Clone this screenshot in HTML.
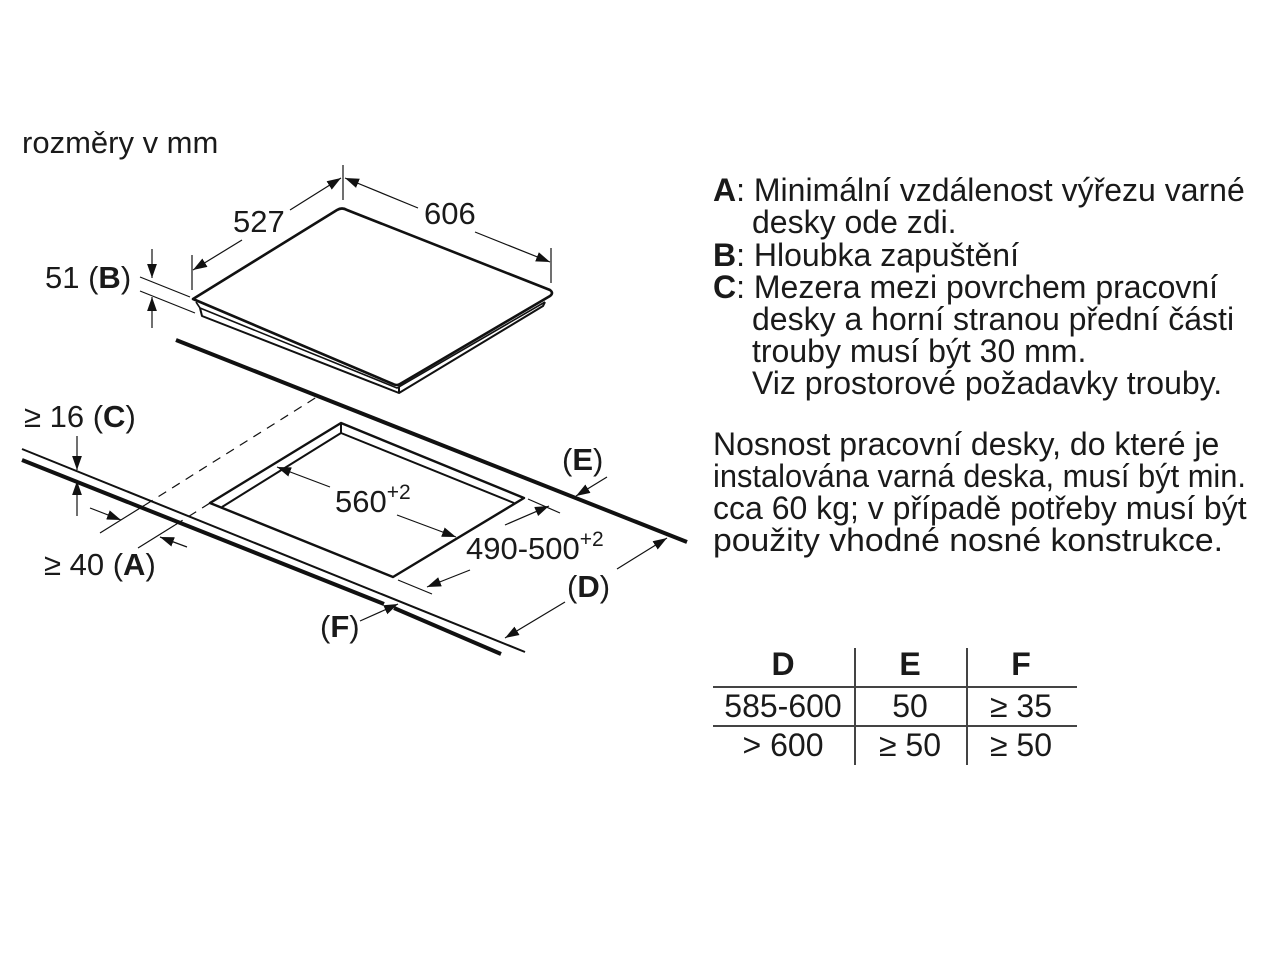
<!DOCTYPE html>
<html><head><meta charset="utf-8"><style>
html,body{margin:0;padding:0;background:#fff;}
svg{display:block}
text{font-family:"Liberation Sans",Arial,sans-serif;fill:#1a1a1a;}
</style></head><body>
<svg width="1280" height="960" viewBox="0 0 1280 960" xmlns="http://www.w3.org/2000/svg">
<defs>
<marker id="b" viewBox="0 0 10 10" refX="10" refY="5" markerWidth="14" markerHeight="14" markerUnits="userSpaceOnUse" orient="auto"><path d="M0,1.5 L10,5 L0,8.5 Z" fill="#111"/></marker>
</defs>
<rect width="1280" height="960" fill="#fff"/>
<text x="22" y="153" font-size="31">rozměry v mm</text>

<g stroke="#111" fill="none" stroke-linejoin="round">
<path d="M193,299 L337,210 Q342,207 347,210 L550,290 Q554,293 550,296 L400,384 Q397,386 393,384 Z" stroke-width="2.6"/>
<path d="M196,302 L200,308 L397,388 L545,302" stroke-width="1.6"/>
<path d="M200,308 L202,316 L399,393 L399,387 M399,393 L543,306 L545,302" stroke-width="2"/>
<g stroke-width="1.2">
<line x1="343" y1="165" x2="343" y2="200"/>
<line x1="192" y1="255" x2="192" y2="290"/>
<line x1="551" y1="248" x2="551" y2="283"/>
<line x1="242" y1="240" x2="193" y2="270" marker-end="url(#b)"/>
<line x1="290" y1="210" x2="341" y2="178" marker-end="url(#b)"/>
<line x1="418" y1="208" x2="345" y2="178" marker-end="url(#b)"/>
<line x1="475" y1="232" x2="550" y2="262" marker-end="url(#b)"/>
<line x1="140" y1="277" x2="190" y2="297"/>
<line x1="140" y1="291" x2="195" y2="313"/>
<line x1="152" y1="249" x2="152" y2="278" marker-end="url(#b)"/>
<line x1="152" y1="328" x2="152" y2="297" marker-end="url(#b)"/>
</g>
<line x1="176" y1="340" x2="687" y2="542" stroke-width="4"/>
<line x1="22" y1="449" x2="525" y2="652" stroke-width="2"/>
<polyline points="22,460 384,604" stroke-width="4"/>
<polyline points="394,608 501,654" stroke-width="4"/>
<path d="M341,423 L524,498 L393,577 L210,503 Z" stroke-width="2.4"/>
<path d="M222,507 L341,433 L514,503 M341,423 L341,433" stroke-width="2"/>
<g stroke-width="1.2">
<line x1="100" y1="533" x2="145" y2="505"/>
<line x1="145" y1="505" x2="320" y2="395" stroke-dasharray="9,7"/>
<line x1="138" y1="548" x2="175" y2="525"/>
<line x1="175" y1="525" x2="210" y2="503" stroke-dasharray="9,7"/>
<line x1="77" y1="436" x2="77" y2="470" marker-end="url(#b)"/>
<line x1="77" y1="516" x2="77" y2="481" marker-end="url(#b)"/>
<line x1="90" y1="508" x2="121" y2="520" marker-end="url(#b)"/>
<line x1="187" y1="547" x2="160" y2="537" marker-end="url(#b)"/>
<line x1="330" y1="487" x2="277" y2="467" marker-end="url(#b)"/>
<line x1="397" y1="515" x2="456" y2="537" marker-end="url(#b)"/>
<line x1="528" y1="499" x2="560" y2="513"/>
<line x1="398" y1="580" x2="432" y2="594"/>
<line x1="505" y1="525" x2="549" y2="506" marker-end="url(#b)"/>
<line x1="470" y1="570" x2="427" y2="587" marker-end="url(#b)"/>
<line x1="607" y1="477" x2="576" y2="496" marker-end="url(#b)"/>
<line x1="617" y1="569" x2="667" y2="538" marker-end="url(#b)"/>
<line x1="565" y1="602" x2="505" y2="638" marker-end="url(#b)"/>
<line x1="360" y1="621" x2="398" y2="604" marker-end="url(#b)"/>
</g>
</g>

<g font-size="31">
<text x="233" y="232">527</text>
<text x="424" y="224">606</text>
<text x="45" y="288">51 (<tspan font-weight="bold">B</tspan>)</text>
<text x="24" y="427">≥ 16 (<tspan font-weight="bold">C</tspan>)</text>
<text x="44" y="575">≥ 40 (<tspan font-weight="bold">A</tspan>)</text>
<text x="335" y="512">560<tspan font-size="21" dy="-13">+2</tspan></text>
<text x="466" y="559">490-500<tspan font-size="21" dy="-13">+2</tspan></text>
<text x="562" y="470">(<tspan font-weight="bold">E</tspan>)</text>
<text x="567" y="597">(<tspan font-weight="bold">D</tspan>)</text>
<text x="320" y="637">(<tspan font-weight="bold">F</tspan>)</text>
</g>

<g font-size="32">
<text x="713" y="201"><tspan font-weight="bold">A</tspan>: Minimální vzdálenost výřezu varné</text>
<text x="752" y="233">desky ode zdi.</text>
<text x="713" y="266"><tspan font-weight="bold">B</tspan>: Hloubka zapuštění</text>
<text x="713" y="298"><tspan font-weight="bold">C</tspan>: Mezera mezi povrchem pracovní</text>
<text x="752" y="330">desky a horní stranou přední části</text>
<text x="752" y="362">trouby musí být 30 mm.</text>
<text x="752" y="394">Viz prostorové požadavky trouby.</text>
<text x="713" y="455">Nosnost pracovní desky, do které je</text>
<text x="713" y="487" textLength="533" lengthAdjust="spacingAndGlyphs">instalována varná deska, musí být min.</text>
<text x="713" y="519">cca 60 kg; v případě potřeby musí být</text>
<text x="713" y="551" textLength="510" lengthAdjust="spacingAndGlyphs">použity vhodné nosné konstrukce.</text>
</g>

<g stroke="#444" stroke-width="2">
<line x1="713" y1="687" x2="1077" y2="687"/>
<line x1="713" y1="726" x2="1077" y2="726"/>
<line x1="855" y1="648" x2="855" y2="765"/>
<line x1="967" y1="648" x2="967" y2="765"/>
</g>
<g font-size="32" text-anchor="middle">
<text x="783" y="675" font-weight="bold">D</text>
<text x="910" y="675" font-weight="bold">E</text>
<text x="1021" y="675" font-weight="bold">F</text>
<text x="783" y="717">585-600</text>
<text x="910" y="717">50</text>
<text x="1021" y="717">≥ 35</text>
<text x="783" y="756">&gt; 600</text>
<text x="910" y="756">≥ 50</text>
<text x="1021" y="756">≥ 50</text>
</g>
</svg>
</body></html>
